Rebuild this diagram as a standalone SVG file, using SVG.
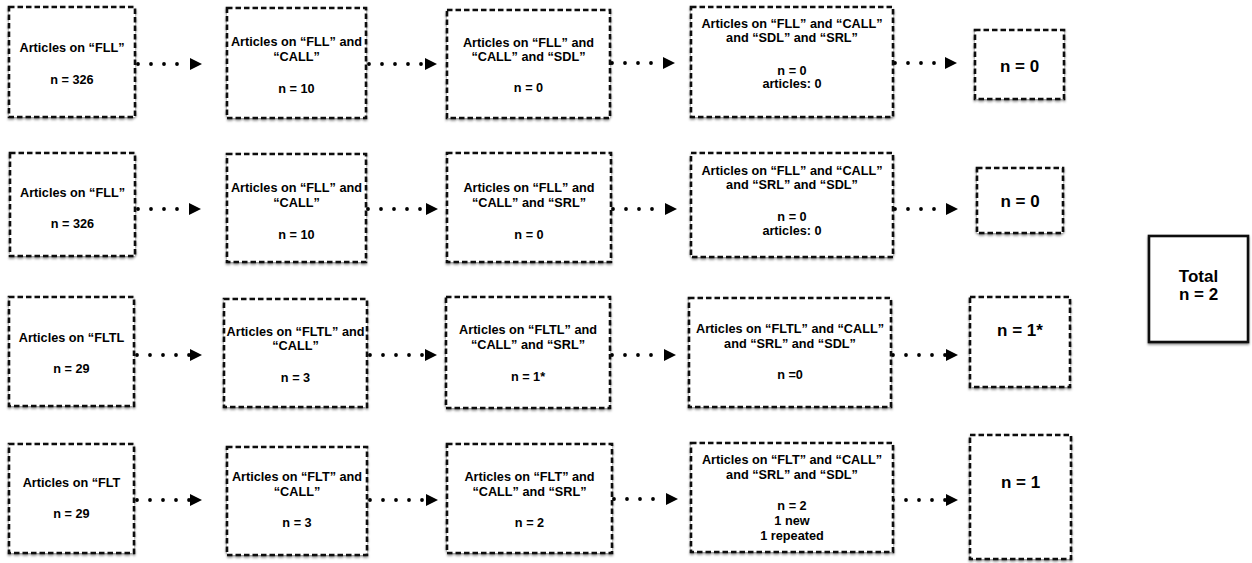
<svg xmlns="http://www.w3.org/2000/svg" width="1252" height="563" viewBox="0 0 1252 563">
<defs>
<filter id="sh" x="-10%" y="-10%" width="120%" height="125%">
<feDropShadow dx="0" dy="1.5" stdDeviation="1" flood-color="#000" flood-opacity="0.45"/>
</filter>
<marker id="ah" viewBox="0 0 12 12" refX="0" refY="6" markerWidth="12" markerHeight="12" markerUnits="userSpaceOnUse" orient="auto">
<path d="M0,0 L12,6 L0,12 Z" fill="#000"/>
</marker>
</defs>
<style>
.b{fill:#fff;stroke:#111;stroke-width:2.6;stroke-dasharray:5.5 3;filter:url(#sh)}
.tb{fill:#fff;stroke:#111;stroke-width:2.6;filter:url(#sh)}
text{font-family:"Liberation Sans",Arial,Helvetica,sans-serif;font-weight:bold;fill:#000;text-anchor:middle}
.s{font-size:12.7px}
.l{font-size:17px}
.c{fill:none;stroke:#000;stroke-width:3.8;stroke-linecap:round;stroke-dasharray:0 13;marker-end:url(#ah)}
</style>
<rect width="1252" height="563" fill="#fff"/>
<g id="connectors">
<path class="c" d="M138,64 H190"/>
<path class="c" d="M369,64 H425"/>
<path class="c" d="M612,63 H663"/>
<path class="c" d="M895,63 H945"/>
<path class="c" d="M138,209 H189"/>
<path class="c" d="M368,209 H426"/>
<path class="c" d="M613,209 H665"/>
<path class="c" d="M895,209 H946"/>
<path class="c" d="M137,355 H190"/>
<path class="c" d="M370,355 H425"/>
<path class="c" d="M612,355 H664"/>
<path class="c" d="M893,355 H946"/>
<path class="c" d="M137,500 H190"/>
<path class="c" d="M370,500 H426"/>
<path class="c" d="M614,499 H666"/>
<path class="c" d="M893,500 H946"/>
</g>
<g id="r1a"><rect class="b" x="9" y="7" width="126" height="110"/>
<text class="s" x="72" y="52">Articles on “FLL”</text><text class="s" x="72" y="84">n = 326</text></g>
<g id="r1b"><rect class="b" x="227" y="8" width="139" height="110"/>
<text class="s" x="296.5" y="46">Articles on “FLL” and</text><text class="s" x="296.5" y="61">“CALL”</text><text class="s" x="296.5" y="93">n = 10</text></g>
<g id="r1c"><rect class="b" x="447" y="10" width="163" height="108"/>
<text class="s" x="528.5" y="47">Articles on “FLL” and</text><text class="s" x="528.5" y="61">“CALL” and “SDL”</text><text class="s" x="528.5" y="92">n = 0</text></g>
<g id="r1d"><rect class="b" x="691" y="7" width="202" height="110"/>
<text class="s" x="792" y="28">Articles on “FLL” and “CALL”</text><text class="s" x="792" y="42">and “SDL” and “SRL”</text><text class="s" x="792" y="75">n = 0</text><text class="s" x="792" y="88">articles: 0</text></g>
<g id="r1e"><rect class="b" x="975" y="30" width="89" height="69"/>
<text class="l" x="1019.5" y="72">n = 0</text></g>

<g id="r2a"><rect class="b" x="10" y="153" width="125" height="103"/>
<text class="s" x="72.5" y="197">Articles on “FLL”</text><text class="s" x="72.5" y="228">n = 326</text></g>
<g id="r2b"><rect class="b" x="227" y="154" width="139" height="108"/>
<text class="s" x="296.5" y="192">Articles on “FLL” and</text><text class="s" x="296.5" y="207">“CALL”</text><text class="s" x="296.5" y="239">n = 10</text></g>
<g id="r2c"><rect class="b" x="447" y="153" width="164" height="109"/>
<text class="s" x="529" y="192">Articles on “FLL” and</text><text class="s" x="529" y="207">“CALL” and “SRL”</text><text class="s" x="529" y="239">n = 0</text></g>
<g id="r2d"><rect class="b" x="691" y="153" width="202" height="104"/>
<text class="s" x="792" y="175">Articles on “FLL” and “CALL”</text><text class="s" x="792" y="189">and “SRL” and “SDL”</text><text class="s" x="792" y="221">n = 0</text><text class="s" x="792" y="235">articles: 0</text></g>
<g id="r2e"><rect class="b" x="977" y="168" width="86" height="65"/>
<text class="l" x="1020" y="207">n = 0</text></g>

<g id="r3a"><rect class="b" x="9" y="297" width="125" height="109"/>
<text class="s" x="71.5" y="342">Articles on “FLTL</text><text class="s" x="71.5" y="373">n = 29</text></g>
<g id="r3b"><rect class="b" x="224" y="299" width="143" height="108"/>
<text class="s" x="295.5" y="336">Articles on “FLTL” and</text><text class="s" x="295.5" y="350">“CALL”</text><text class="s" x="295.5" y="382">n = 3</text></g>
<g id="r3c"><rect class="b" x="446" y="297" width="164" height="111"/>
<text class="s" x="528" y="334">Articles on “FLTL” and</text><text class="s" x="528" y="349">“CALL” and “SRL”</text><text class="s" x="528" y="381">n = 1*</text></g>
<g id="r3d"><rect class="b" x="689" y="298" width="202" height="109"/>
<text class="s" x="790" y="333">Articles on “FLTL” and “CALL”</text><text class="s" x="790" y="348">and “SRL” and “SDL”</text><text class="s" x="790" y="379">n =0</text></g>
<g id="r3e"><rect class="b" x="970" y="297" width="100" height="90"/>
<text class="l" x="1020" y="336">n = 1*</text></g>

<g id="total"><rect class="tb" x="1149" y="236" width="99" height="106"/>
<text class="l" x="1198.5" y="282">Total</text><text class="l" x="1198.5" y="300">n = 2</text></g>

<g id="r4a"><rect class="b" x="9" y="444" width="125" height="109"/>
<text class="s" x="71.5" y="487">Articles on “FLT</text><text class="s" x="71.5" y="518">n = 29</text></g>
<g id="r4b"><rect class="b" x="227" y="447" width="140" height="108"/>
<text class="s" x="297" y="481">Articles on “FLT” and</text><text class="s" x="297" y="496">“CALL”</text><text class="s" x="297" y="527">n = 3</text></g>
<g id="r4c"><rect class="b" x="447" y="444" width="165" height="109"/>
<text class="s" x="529.5" y="481">Articles on “FLT” and</text><text class="s" x="529.5" y="496">“CALL” and “SRL”</text><text class="s" x="529.5" y="527">n = 2</text></g>
<g id="r4d"><rect class="b" x="691" y="443" width="202" height="109"/>
<text class="s" x="792" y="464">Articles on “FLT” and “CALL”</text><text class="s" x="792" y="479">and “SRL” and “SDL”</text><text class="s" x="792" y="510">n = 2</text><text class="s" x="792" y="525">1 new</text><text class="s" x="792" y="540">1 repeated</text></g>
<g id="r4e"><rect class="b" x="970" y="435" width="101" height="124"/>
<text class="l" x="1020.5" y="488">n = 1</text></g>
</svg>
